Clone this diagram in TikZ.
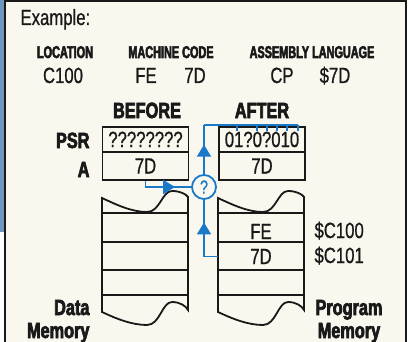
\documentclass[tikz,border=0pt]{standalone}
\usepackage{fontspec}
\setmainfont[FakeStretch=0.76,FakeBold=0.8]{Liberation Sans}
\newfontfamily\heavyfont[FakeStretch=0.74,FakeBold=3]{Liberation Sans Bold}
\newfontfamily\headfont[FakeStretch=0.64,FakeBold=3]{Liberation Sans Bold}
\usetikzlibrary{arrows.meta,decorations.markings}
\definecolor{flowblue}{RGB}{25,120,200}
\definecolor{paper}{RGB}{250,248,238}
\definecolor{edgeblue}{RGB}{110,150,190}
\definecolor{ink}{RGB}{25,25,25}

\begin{document}
\begin{tikzpicture}[x=1pt,y=-1pt,>=Stealth,text=ink,
 txt/.style={font=\fontsize{22}{26}\selectfont},
 head/.style={font=\headfont\fontsize{17}{20}\selectfont},
 big/.style={font=\heavyfont\fontsize{22}{23}\selectfont},
 reg/.style={draw=ink,line width=1.8pt,minimum width=86pt,inner sep=0pt,
  text height=15pt,text depth=0pt,txt},
 mem/.style={draw=ink,line width=1.8pt},
 flow/.style={draw=flowblue,line width=1.8pt},
 tip/.style={postaction={decorate},decoration={markings,
  mark=at position #1 with {\arrow{Triangle[length=12pt,width=14pt]}}}}]
\useasboundingbox (0,0) rectangle (409,342);
% paper and frame
\fill[paper] (5,0) rectangle (406,342);
\fill[edgeblue] (0,0) rectangle (4,232);
\draw[ink,line width=2pt] (5,342) -- (5,1) -- (406,1) -- (406,342);

% example line
\node[txt,anchor=base west] (ex) at (17,25) {Example:};
\node[head,anchor=base] (hloc) at (65,58) {LOCATION};
\node[head,anchor=base] (hmc) at (171,58) {MACHINE CODE};
\node[head,anchor=base] (hasm) at (312,58) {ASSEMBLY LANGUAGE};
\node[txt,anchor=base] (vloc) at (63,83) {C100};
\node[txt,anchor=base] (vfe) at (146,83) {FE};
\node[txt,anchor=base] (vsd) at (195,83) {7D};
\node[txt,anchor=base] (vcp) at (282,83) {CP};
\node[txt,anchor=base] (vop) at (335,83) {\$7D};

% registers
\node[big,anchor=base] (before) at (147,118) {BEFORE};
\node[big,anchor=base] (after) at (262,118) {AFTER};
\node[big,anchor=base east] (lpsr) at (93,148) {PSR};
\node[big,anchor=base east] (la) at (93,177) {A};
\node[reg,minimum height=25pt] (psrB) at (145.5,139.5) {????????};
\node[reg,minimum height=28pt] (aB) at (145.5,166) {7D};
\node[reg,minimum height=25pt] (psrA) at (262,139.5) {01?0?010};
\node[reg,minimum height=28pt] (aA) at (262,166) {7D};

% memory stacks
\foreach \mx in {102,218}{
 \begin{scope}[shift={(\mx,0)}]
  \draw[mem] (0,198) .. controls (15,205) and (30,212) .. (45,212)
   .. controls (58,212) and (60,191) .. (70,191)
   .. controls (78,191) and (84,194) .. (86,197) -- (86,310)
   .. controls (84,306) and (78,302) .. (70,302)
   .. controls (60,302) and (58,325) .. (45,325)
   .. controls (30,325) and (15,319) .. (0,312) -- cycle;
  \foreach \ry in {213,242,270,295}
   \draw[mem] (0,\ry) -- (86,\ry);
 \end{scope}
}
\node[txt,minimum width=86pt,inner sep=0pt,text height=15pt,text depth=0pt] (mfe) at (261,231.5) {FE};
\node[txt,minimum width=86pt,inner sep=0pt,text height=15pt,text depth=0pt] (msd) at (261,256.5) {7D};
\node[txt,anchor=base west] (afe) at (311,238) {\$C100};
\node[txt,anchor=base west] (asd) at (311,263) {\$C101};
\node[big,anchor=base east,align=right] (ldata) at (93,338) {Data\\Memory};
\node[big,anchor=base,align=center] (lprog) at (349,338) {Program\\Memory};

% compare
\node[circle,draw=flowblue,line width=1.8pt,minimum size=24pt,inner sep=0pt,
 text=flowblue,font=\fontsize{19}{20}\selectfont] (q) at (204,187) {?};
\coordinate (ftop) at (204,125);
\coordinate (fend) at (298,125);
\draw[flow,tip=0.69] (aB.south) |- (q.west);
\draw[flow,tip=0.68] (msd.west) -| (q.south);
\draw[flow,tip=0.6] (q.north) -- (ftop);
\draw[flow] (ftop) -- (fend);
\foreach \fx in {237,257,267,277,287,298}
 \draw[flow] (\fx,125) -- (\fx,131);
\end{tikzpicture}
\end{document}
